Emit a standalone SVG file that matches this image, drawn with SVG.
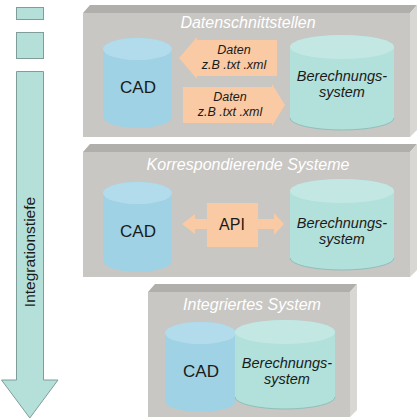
<svg xmlns="http://www.w3.org/2000/svg" width="420" height="420" viewBox="0 0 420 420">
<defs>
<style>
.front{fill:#c9c7c3}
.topb{fill:#b1afab}
.side{fill:#d9d7d3}
.title{font-family:"Liberation Sans",Arial,sans-serif;font-style:italic;font-size:16px;fill:#ffffff;text-anchor:middle}
.cadb{fill:#9fd2e4}
.cadt{fill:#b2dcec}
.berb{fill:#b2e0db}
.bert{fill:#c3e8e4}
.bere{fill:none;stroke:#8fbfba;stroke-width:1}
.cadtxt{font-family:"Liberation Sans",Arial,sans-serif;font-size:17px;fill:#1a1a1a;text-anchor:middle}
.bertxt{font-family:"Liberation Sans",Arial,sans-serif;font-style:italic;font-size:14.5px;fill:#1a1a1a;text-anchor:middle}
.arr{fill:#f9caa4}
.dtxt{font-family:"Liberation Sans",Arial,sans-serif;font-style:italic;font-size:12.5px;fill:#1a1a1a;text-anchor:middle}
.api{font-family:"Liberation Sans",Arial,sans-serif;font-size:16px;fill:#1a1a1a;text-anchor:middle}
.lb{fill:#b5dfd9;stroke:#7f9e9a;stroke-width:1}
.lbl{font-family:"Liberation Sans",Arial,sans-serif;font-size:15.5px;fill:#1a1a1a;text-anchor:middle}
</style>
</defs>
<rect width="420" height="420" fill="#ffffff"/>

<g id="scale">
<rect class="lb" x="16.5" y="7.5" width="27" height="12"/>
<rect class="lb" x="16.5" y="32.5" width="27" height="26"/>
<polygon class="lb" points="16.5,71.5 43.5,71.5 43.5,380 58,380 29.8,418 1.5,380 16.5,380"/>
<text class="lbl" transform="translate(35,252) rotate(-90)">Integrationstiefe</text>
</g>

<g id="panel1">
<polygon class="topb" points="83,13 90,5 417,5 410,13"/>
<polygon class="side" points="410,13 417,5 417,130 410,137"/>
<rect class="front" x="83" y="13" width="327" height="124"/>
<text class="title" x="248" y="28">Datenschnittstellen</text>
</g>
<g id="cad1">
<path class="cadb" d="M103,49 A34.5,11 0 0 1 172,49 L172,117 A34.5,11 0 0 1 103,117 Z"/>
<ellipse class="cadt" cx="137.5" cy="49" rx="34.5" ry="11"/>
<text class="cadtxt" x="138" y="93">CAD</text>
</g>
<g id="ber1">
<path class="berb" d="M290,47 A52,12 0 0 1 394,47 L394,118 A52,12 0 0 1 290,118 Z"/>
<ellipse class="bert" cx="342" cy="47" rx="52" ry="12"/>
<path class="bere" d="M290,118 A52,12 0 0 0 394,118"/>
<text class="bertxt" x="342" y="81">Berechnungs-</text>
<text class="bertxt" x="342" y="97">system</text>
</g>

<g id="panel2">
<polygon class="topb" points="83,152 90,144 417,144 410,152"/>
<polygon class="side" points="410,152 417,144 417,270 410,277"/>
<rect class="front" x="83" y="152" width="327" height="125"/>
<text class="title" x="248" y="170">Korrespondierende Systeme</text>
</g>
<g id="cad2">
<path class="cadb" d="M103,193 A34.5,11 0 0 1 172,193 L172,261 A34.5,11 0 0 1 103,261 Z"/>
<ellipse class="cadt" cx="137.5" cy="193" rx="34.5" ry="11"/>
<text class="cadtxt" x="138" y="237">CAD</text>
</g>
<g id="ber2">
<path class="berb" d="M290,191 A52,12 0 0 1 394,191 L394,258 A52,12 0 0 1 290,258 Z"/>
<ellipse class="bert" cx="342" cy="191" rx="52" ry="12"/>
<path class="bere" d="M290,258 A52,12 0 0 0 394,258"/>
<text class="bertxt" x="342" y="228">Berechnungs-</text>
<text class="bertxt" x="342" y="244">system</text>
</g>

<g id="panel3">
<polygon class="topb" points="148,292 155,284 357,284 350,292"/>
<polygon class="side" points="350,292 357,284 357,410 350,417"/>
<rect class="front" x="148" y="292" width="202" height="125"/>
<text class="title" x="252" y="310">Integriertes System</text>
</g>
<g id="cad3">
<path class="cadb" d="M165,333 A35.5,11 0 0 1 236,333 L236,401 A35.5,11 0 0 1 165,401 Z"/>
<ellipse class="cadt" cx="200.5" cy="333" rx="35.5" ry="11"/>
<text class="cadtxt" x="201" y="377">CAD</text>
</g>
<g id="ber3">
<path class="berb" d="M235,332 A50,12 0 0 1 335,332 L335,397 A50,12 0 0 1 235,397 Z"/>
<ellipse class="bert" cx="285" cy="332" rx="50" ry="12"/>
<path class="bere" d="M235,397 A50,12 0 0 0 335,397"/>
<text class="bertxt" x="287" y="368">Berechnungs-</text>
<text class="bertxt" x="287" y="384">system</text>
</g>

<g id="connectors">
<g id="arrow-left">
<polygon class="arr" points="179,58 197,37 197,40 277,40 277,76 197,76 197,79"/>
<text class="dtxt" x="234" y="54">Daten</text>
<text class="dtxt" x="234" y="69">z.B .txt .xml</text>
</g>
<g id="arrow-right">
<polygon class="arr" points="183,87 272,87 272,84 285,105 272,126 272,123 183,123"/>
<text class="dtxt" x="230" y="101">Daten</text>
<text class="dtxt" x="230" y="116">z.B .txt .xml</text>
</g>
<g id="api">
<polygon class="arr" points="182,224 195,214 195,219 207,219 207,203 258,203 258,219 274,219 274,213 284,224 274,235 274,229 258,229 258,247 207,247 207,229 195,229 195,234"/>
<text class="api" x="232" y="230">API</text>
</g>
</g>
</svg>
